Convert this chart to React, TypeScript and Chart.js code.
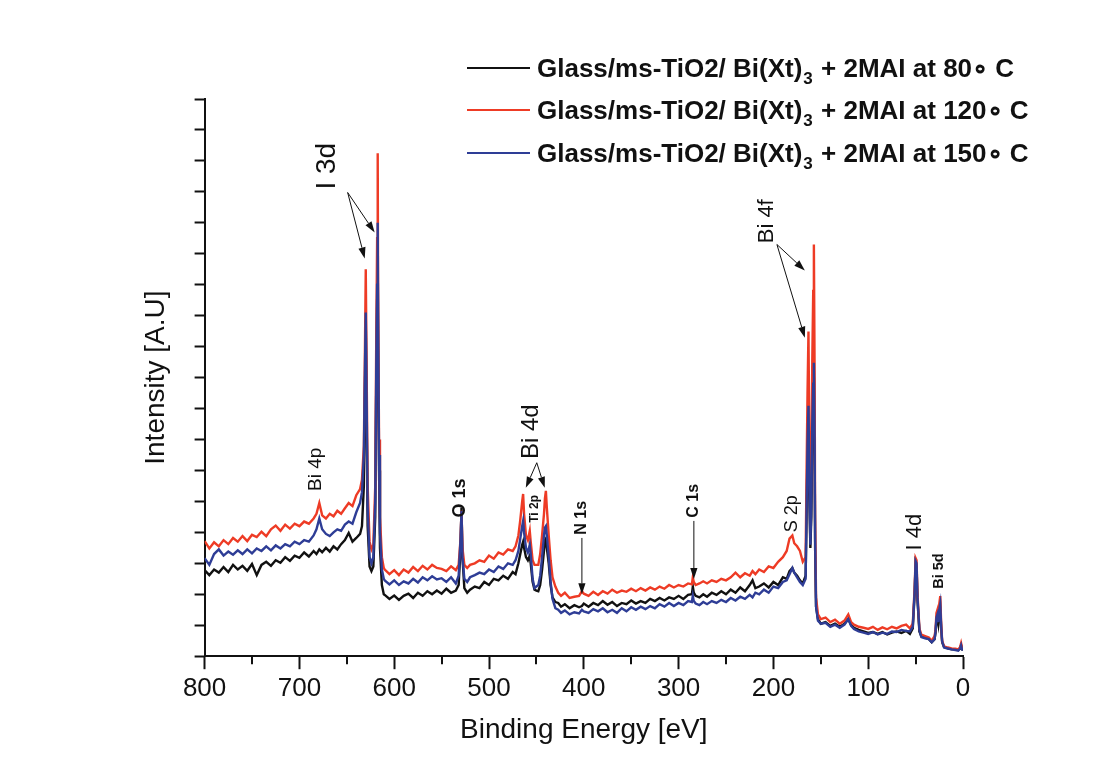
import { useEffect, useRef } from "react";
import { Chart, registerables } from "chart.js";

Chart.register(...registerables);

// Binding energies (eV) shared by all three spectra
const energy = [
  800, 795, 790, 785, 780, 775, 770, 765, 760, 755, 750, 745, 740, 735, 730, 725, 720, 715, 710, 705, 700, 695, 690, 685, 682, 679, 676, 672, 668, 664, 660, 656, 652, 648, 644, 640, 636,
  634, 632, 631, 630, 629, 628, 626, 624, 622, 620, 619, 618, 617.4, 617, 616, 615, 613, 611,
  610, 605, 600, 595, 590, 585, 580, 575, 570, 565, 560, 555, 550, 545, 540, 535,
  532, 530, 529, 528, 526, 523, 520, 515, 510, 505, 500, 495, 490, 485, 480, 475, 472, 469, 467,
  465, 464, 463, 461, 459, 457, 456, 454, 452, 450, 448, 446, 444, 442, 441, 440, 439, 437, 435, 433, 430, 427, 424, 420,
  415, 410, 405, 402, 400, 395, 390, 385, 380, 375, 370, 365, 360, 355, 350, 345, 340, 335, 330, 325,
  320, 315, 310, 305, 300, 295, 290, 286, 285, 284, 282, 278, 274, 270, 265, 260, 255, 250, 245, 240,
  235, 230, 225, 222, 219, 215, 210, 205, 200, 195, 190, 186, 183, 180, 178, 175, 172, 169, 166, 165, 164, 163,
  162, 161, 160, 159, 158, 157.3, 156.5, 156, 155, 153, 150, 145, 140, 135, 130, 125, 121, 118, 115, 110,
  105, 100, 95, 90, 85, 80, 75, 70, 65, 60, 56, 53, 51, 50, 49, 48, 46, 44, 40, 36, 33, 30,
  29, 28, 27, 26, 25, 24, 23, 22, 20, 16, 12, 8, 5, 3, 2, 1, 0,
];

// Intensity (a.u.) of the film annealed at 80 °C
const intensity80 = [
  2.78, 2.62, 2.8, 2.7, 2.88, 2.72, 2.95, 2.8, 2.92, 2.76, 2.98, 2.62, 2.95, 3.05, 2.92, 3.1, 3.02, 3.2, 3.08, 3.25, 3.18, 3.35, 3.22, 3.4, 3.3, 3.45, 3.36, 3.5, 3.38, 3.55, 3.45, 3.62, 3.75, 3.98, 3.7, 3.82, 3.95,
  4.2, 5.5, 8.0, 10.8, 7.5, 4.2, 2.9, 2.75, 2.9, 4.5, 8.5, 11.5, 13.2, 10.0, 6.0, 3.5, 2.3, 2.0,
  1.98, 1.85, 1.96, 1.82, 1.95, 2.02, 1.88, 2.05, 1.95, 2.1, 2.0, 2.12, 2.02, 2.18, 2.05, 2.12,
  2.3, 3.5, 4.8, 3.2, 2.2, 2.05, 2.15, 2.25, 2.2, 2.4, 2.3, 2.5, 2.45, 2.6, 2.5, 2.72, 2.65, 3.0, 3.3,
  3.6, 3.7, 3.5, 3.2, 3.1, 3.25, 3.0, 2.4, 2.15, 2.12, 2.1, 2.3, 2.8, 3.4, 3.75, 3.8, 3.5, 3.0, 2.3, 1.9, 1.75, 1.72, 1.6, 1.68,
  1.55, 1.65, 1.58, 1.62, 1.7, 1.6, 1.72, 1.65, 1.78, 1.66, 1.75, 1.62, 1.72, 1.68, 1.8, 1.7, 1.78, 1.72, 1.85, 1.78,
  1.88, 1.8, 1.9, 1.85, 1.95, 1.85, 1.98, 2.0, 2.25, 2.05, 1.95, 1.9, 2.0, 1.92, 2.05, 1.98, 2.1, 2.0, 2.15, 2.05,
  2.22, 2.1, 2.3, 2.45, 2.2, 2.25, 2.35, 2.22, 2.4, 2.3, 2.55, 2.5, 2.75, 2.85, 2.7, 2.6, 2.45, 2.35, 2.6, 4.5, 6.5, 7.7,
  5.0, 3.5, 4.5, 7.0, 8.6, 9.0, 6.5, 3.5, 1.6, 1.2, 1.05, 1.1, 0.98, 1.05, 0.95, 1.05, 1.2, 1.0, 0.92, 0.85,
  0.8, 0.75, 0.78, 0.72, 0.78, 0.7, 0.76, 0.8, 0.75, 0.82, 0.72, 0.9, 2.0, 3.0, 2.9, 1.8, 0.8, 0.65, 0.6, 0.55, 0.45, 0.55,
  0.75, 1.15, 1.25, 1.05, 1.4, 1.55, 0.9, 0.45, 0.3, 0.25, 0.22, 0.22, 0.2, 0.25, 0.35, 0.22, 0.2,
];

// Intensity (a.u.) of the film annealed at 120 °C
const intensity120 = [
  3.72, 3.48, 3.68, 3.55, 3.75, 3.62, 3.82, 3.7, 3.88, 3.72, 3.92, 3.85, 4.02, 3.88, 4.1, 4.22, 4.05, 4.25, 4.12, 4.28, 4.2, 4.35, 4.28, 4.45, 4.6, 4.95, 4.55, 4.45, 4.6, 4.52, 4.7, 4.6, 4.78, 4.95, 4.85, 5.2, 5.4,
  5.7, 6.8, 9.5, 12.5, 9.0, 5.5, 3.7, 3.45, 3.6, 5.5, 10.0, 13.5, 16.25, 12.0, 7.0, 4.5, 3.2, 2.85,
  2.8, 2.65, 2.78, 2.62, 2.8, 2.7, 2.88, 2.75, 2.92, 2.8, 2.95, 2.85, 2.82, 2.75, 2.9, 2.78,
  2.95, 3.8, 4.7, 3.5, 2.95, 2.85, 2.95, 3.0, 3.1, 3.05, 3.25, 3.15, 3.35, 3.28, 3.45, 3.4, 3.55, 3.9, 4.4,
  5.0, 5.24, 4.6, 3.9, 3.75, 4.05, 3.7, 3.1, 2.95, 2.95, 2.95, 3.3, 3.9, 4.6, 5.1, 5.34, 4.8, 3.9, 3.1, 2.55, 2.25, 2.05, 1.95, 2.05,
  1.88, 1.92, 1.95, 2.1, 2.02, 1.95, 2.08, 1.98, 2.1, 2.02, 2.15, 2.05, 2.12, 2.08, 2.18, 2.1, 2.2, 2.12, 2.22, 2.15,
  2.25, 2.18, 2.3, 2.22, 2.3, 2.25, 2.35, 2.32, 2.55, 2.4, 2.3, 2.35, 2.42, 2.35, 2.45, 2.4, 2.5, 2.45, 2.55, 2.7,
  2.55, 2.68, 2.6, 2.75, 2.65, 2.8, 2.72, 2.9, 2.85, 3.05, 3.2, 3.4, 3.8, 3.9, 3.65, 3.55, 3.4, 3.05, 3.2, 6.0, 8.5, 10.49,
  6.5, 4.5, 6.0, 9.5, 11.8, 13.3, 9.0, 4.5, 1.9, 1.35, 1.2, 1.25, 1.1, 1.18, 1.05, 1.15, 1.35, 1.1, 1.02, 0.95,
  0.92, 0.88, 0.95, 0.85, 0.93, 0.87, 0.95, 0.9, 0.98, 1.02, 0.9, 1.05, 2.2, 3.17, 3.1, 2.0, 0.9, 0.7, 0.65, 0.6, 0.5, 0.65,
  0.85, 1.4, 1.5, 1.25, 1.7, 1.94, 1.05, 0.5, 0.32, 0.28, 0.25, 0.24, 0.22, 0.3, 0.42, 0.28, 0.25,
];

// Intensity (a.u.) of the film annealed at 150 °C
const intensity150 = [
  3.17, 2.95, 3.3, 3.45, 3.25, 3.38, 3.28, 3.42, 3.3, 3.45, 3.32, 3.48, 3.4, 3.55, 3.42, 3.58, 3.48, 3.62, 3.55, 3.7, 3.62, 3.75, 3.7, 3.9, 4.1, 4.45, 4.1, 3.95, 3.88, 4.0, 4.1, 4.05, 4.25, 4.35, 4.28, 4.65, 4.95,
  5.3, 6.5, 9.0, 11.1, 8.0, 4.8, 3.2, 3.0, 3.2, 5.0, 9.0, 12.0, 14.0, 11.0, 6.5, 4.0, 2.8, 2.5,
  2.45, 2.32, 2.45, 2.3, 2.42, 2.35, 2.5, 2.38, 2.55, 2.45, 2.58, 2.48, 2.52, 2.4, 2.55, 2.35,
  2.6, 3.8, 4.69, 3.2, 2.5, 2.4, 2.55, 2.62, 2.7, 2.65, 2.8, 2.72, 2.9, 2.82, 3.0, 2.95, 3.1, 3.4, 3.8,
  4.2, 4.37, 4.0, 3.5, 3.35, 3.6, 3.3, 2.5, 2.2, 2.25, 2.3, 2.6, 3.2, 3.9, 4.15, 4.2, 3.9, 3.2, 2.4, 1.85, 1.55, 1.5, 1.4, 1.48,
  1.35, 1.42, 1.38, 1.5, 1.45, 1.4, 1.52, 1.45, 1.55, 1.42, 1.5, 1.4, 1.55, 1.45, 1.58, 1.5, 1.6, 1.52, 1.62, 1.55,
  1.68, 1.6, 1.72, 1.62, 1.72, 1.65, 1.78, 1.75, 1.95, 1.78, 1.7, 1.65, 1.75, 1.68, 1.78, 1.72, 1.82, 1.75, 1.88, 1.8,
  1.92, 1.85, 1.98, 1.9, 2.05, 2.0, 2.15, 2.05, 2.25, 2.2, 2.4, 2.45, 2.65, 2.85, 2.7, 2.55, 2.4, 2.3, 2.5, 4.8, 6.8, 8.09,
  5.3, 3.6, 4.8, 7.5, 8.8, 9.48, 7.0, 3.8, 1.6, 1.15, 1.05, 1.08, 0.95, 1.02, 0.92, 1.02, 1.2, 0.98, 0.88, 0.8,
  0.76, 0.72, 0.78, 0.7, 0.76, 0.72, 0.8, 0.78, 0.85, 0.82, 0.8, 0.95, 2.1, 3.07, 3.0, 1.9, 0.85, 0.62, 0.58, 0.55, 0.45, 0.55,
  0.8, 1.25, 1.35, 1.1, 1.5, 1.68, 0.95, 0.48, 0.28, 0.25, 0.22, 0.2, 0.18, 0.25, 0.35, 0.22, 0.2,
];

const seriesTemps = ["80", "120", "150"];
const seriesColors = ["#111111", "#EE3B25", "#2E3D96"];

const xMajorTicks = [800, 700, 600, 500, 400, 300, 200, 100, 0];
const xMinorTicks = [750, 650, 550, 450, 350, 250, 150, 50];

// Peak labels, rotated, placed at (binding energy, intensity)
const peakLabels = [
  { text: "I 3d", e: 670.2, y: 15.83, size: 28, bold: false },
  { text: "Bi 4p", e: 682.8, y: 6.04, size: 19, bold: false },
  { text: "O 1s", e: 530.9, y: 5.11, size: 18, bold: true },
  { text: "Bi 4d", e: 454.9, y: 7.25, size: 24, bold: false },
  { text: "Ti 2p", e: 451.7, y: 4.76, size: 12, bold: true },
  { text: "N 1s", e: 402.1, y: 4.47, size: 16, bold: true },
  { text: "C 1s", e: 283.9, y: 5.02, size: 16, bold: true },
  { text: "S 2p", e: 180.5, y: 4.6, size: 18, bold: false },
  { text: "Bi 4f", e: 206.9, y: 14.05, size: 22, bold: false },
  { text: "I 4d", e: 50.7, y: 4.01, size: 22, bold: false },
  { text: "Bi 5d", e: 25.3, y: 2.75, size: 14.5, bold: true },
];

// Pointer arrows: [fromE, fromY, toE, toY]
const peakArrows = [
  [649.1, 14.98, 620.6, 13.69],
  [649.1, 14.98, 631.1, 12.85],
  [449.6, 6.25, 461.2, 5.44],
  [449.6, 6.25, 441.2, 5.44],
  [402.0, 3.82, 402.0, 2.0],
  [283.9, 4.37, 283.9, 2.49],
  [196.3, 13.3, 166.8, 12.46],
  [196.3, 13.3, 166.8, 10.29],
];

const FONT = '"Liberation Sans", Arial, sans-serif';
const NARROW = '"Liberation Sans Narrow", "Liberation Sans", Arial, sans-serif';

const overlayPlugin = {
  id: "xpsOverlay",
  afterDraw(chart: any) {
    const { ctx, chartArea, scales } = chart;
    const xs = scales.x;
    const ys = scales.y;
    ctx.save();
    ctx.strokeStyle = "#111";
    ctx.fillStyle = "#111";

    // minor ticks on the energy axis
    ctx.lineWidth = 2;
    for (const v of xMinorTicks) {
      const px = Math.round(xs.getPixelForValue(v));
      ctx.beginPath();
      ctx.moveTo(px, chartArea.bottom);
      ctx.lineTo(px, chartArea.bottom + 8);
      ctx.stroke();
    }

    // arrows
    ctx.lineWidth = 1;
    for (const [e0, y0, e1, y1] of peakArrows) {
      const x0 = xs.getPixelForValue(e0);
      const yy0 = ys.getPixelForValue(y0);
      const x1 = xs.getPixelForValue(e1);
      const yy1 = ys.getPixelForValue(y1);
      const ang = Math.atan2(yy1 - yy0, x1 - x0);
      const head = 11;
      const half = 3.6;
      const bx = x1 - head * Math.cos(ang);
      const by = yy1 - head * Math.sin(ang);
      ctx.beginPath();
      ctx.moveTo(x0, yy0);
      ctx.lineTo(bx, by);
      ctx.stroke();
      ctx.beginPath();
      ctx.moveTo(x1, yy1);
      ctx.lineTo(bx + half * Math.sin(ang), by - half * Math.cos(ang));
      ctx.lineTo(bx - half * Math.sin(ang), by + half * Math.cos(ang));
      ctx.closePath();
      ctx.fill();
    }

    // rotated peak labels
    ctx.textAlign = "center";
    ctx.textBaseline = "middle";
    for (const l of peakLabels) {
      const px = xs.getPixelForValue(l.e);
      const py = ys.getPixelForValue(l.y);
      ctx.save();
      ctx.translate(px, py);
      ctx.rotate(-Math.PI / 2);
      ctx.font = `${l.bold ? "bold " : ""}${l.size}px ${FONT}`;
      ctx.fillText(l.text, 0, 0);
      ctx.restore();
    }

    // legend
    const rowY = [68, 110, 153];
    ctx.textAlign = "left";
    ctx.textBaseline = "alphabetic";
    chart.data.datasets.forEach((ds: any, i: number) => {
      const y = rowY[i];
      ctx.strokeStyle = ds.borderColor;
      ctx.lineWidth = 2;
      ctx.beginPath();
      ctx.moveTo(467, y);
      ctx.lineTo(530, y);
      ctx.stroke();
      ctx.fillStyle = "#111";
      const base = y + 9;
      let x = 537;
      ctx.font = `bold 26px ${FONT}`;
      const pre = "Glass/ms-TiO2/ Bi(Xt)";
      ctx.fillText(pre, x, base);
      x += ctx.measureText(pre).width;
      ctx.font = `bold 17px ${FONT}`;
      ctx.fillText("3", x + 1, base + 7);
      x += ctx.measureText("3").width + 2;
      ctx.font = `bold 26px ${FONT}`;
      ctx.fillText(` + 2MAI at ${seriesTemps[i]}\u2218 C`, x, base);
    });
    ctx.restore();
  },
};

export default function App() {
  const canvasRef = useRef<HTMLCanvasElement | null>(null);

  useEffect(() => {
    document.body.style.margin = "0";
    const canvas = canvasRef.current;
    if (!canvas) return;
    const series = [intensity80, intensity120, intensity150];
    const chart = new Chart(canvas, {
      type: "line",
      data: {
        datasets: series.map((vals, i) => ({
          label: `Glass/ms-TiO2/ Bi(Xt)3 + 2MAI at ${seriesTemps[i]}° C`,
          data: energy.map((e, k) => ({ x: e, y: vals[k] })),
          borderColor: seriesColors[i],
          backgroundColor: seriesColors[i],
          borderWidth: 2.4,
          pointRadius: 0,
          tension: 0,
          order: 3 - i,
        })),
      },
      options: {
        responsive: false,
        animation: false,
        layout: { padding: { left: 135, right: 139, top: 99, bottom: 22 } },
        plugins: { legend: { display: false }, tooltip: { enabled: false } },
        scales: {
          x: {
            type: "linear",
            reverse: true,
            min: 0,
            max: 800,
            afterBuildTicks: (s: any) => {
              s.ticks = xMajorTicks.map((v) => ({ value: v }));
            },
            ticks: {
              color: "#111",
              font: { family: NARROW, size: 26 },
              padding: 4,
              maxRotation: 0,
              autoSkip: false,
            },
            grid: {
              drawOnChartArea: false,
              drawTicks: true,
              tickLength: 13,
              tickWidth: 2,
              tickColor: "#111",
            },
            border: { display: true, color: "#111", width: 2 },
            title: {
              display: true,
              text: "Binding Energy [eV]",
              color: "#111",
              font: { family: FONT, size: 28 },
              padding: { top: 5, bottom: 4 },
            },
          },
          y: {
            type: "linear",
            min: 0,
            max: 18,
            ticks: { display: false, stepSize: 1 },
            grid: {
              drawOnChartArea: false,
              drawTicks: true,
              tickLength: 10,
              tickWidth: 2,
              tickColor: "#111",
            },
            border: { display: true, color: "#111", width: 2 },
            title: {
              display: true,
              text: "Intensity [A.U]",
              color: "#111",
              font: { family: FONT, size: 28 },
              padding: { top: 4, bottom: 22 },
            },
          },
        },
      },
      plugins: [overlayPlugin],
    });
    return () => chart.destroy();
  }, []);

  return (
    <div style={{ width: 1102, height: 773, background: "#fff" }}>
      <canvas ref={canvasRef} width={1102} height={773} style={{ display: "block" }} />
    </div>
  );
}
